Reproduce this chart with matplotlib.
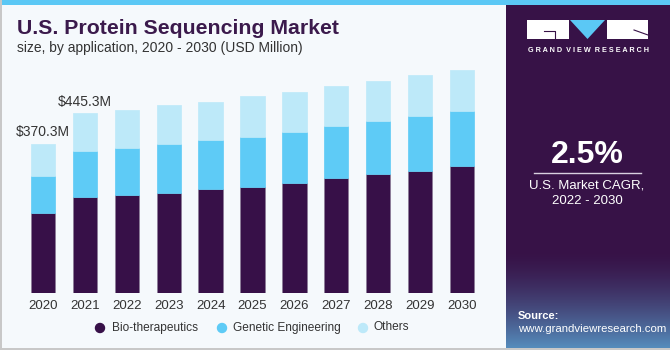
import matplotlib.pyplot as plt
import numpy as np
from matplotlib.patches import Rectangle, Polygon

years = ["2020", "2021", "2022", "2023", "2024", "2025", "2026", "2027", "2028", "2029", "2030"]
bio_therapeutics = [198.0, 238.8, 243.0, 248.8, 258.7, 263.6, 273.5, 286.0, 294.3, 303.3, 315.7]
genetic_engineering = [93.4, 114.0, 116.6, 120.7, 120.7, 124.0, 126.5, 129.0, 132.2, 135.6, 135.6]
others = [78.9, 92.5, 94.2, 96.7, 95.0, 100.9, 99.2, 99.2, 100.0, 102.4, 102.4]
labels = {0: "$370.3M", 1: "$445.3M"}

series_names = ["Bio-therapeutics", "Genetic Engineering", "Others"]
colors = ["#371048", "#5ecbf6", "#bde9f9"]

W, H = 670, 350
fig = plt.figure(figsize=(W / 100, H / 100), dpi=100)
fig.patch.set_facecolor("#f5f9fc")

# full-figure overlay axes in pixel coordinates
bg = fig.add_axes([0, 0, 1, 1])
bg.axis("off")
bg.add_patch(Rectangle((0, 0), W, 5, color="#5bc8f5", lw=0))
bg.add_patch(Rectangle((0, 0), 1.5, H, color="#c8c8c8", lw=0))
bg.add_patch(Rectangle((0, H - 2), W, 2, color="#c8c8c8", lw=0))

# right panel with gradient at the bottom
px0 = 506
grad = np.linspace(0, 1, 100)[:, None]
top_c = np.array([0x37, 0x12, 0x47]) / 255
bot_c = np.array([0x55, 0x8c, 0xbc]) / 255
t = grad ** 1.5
img = top_c[None, None, :] * (1 - t[..., None]) + bot_c[None, None, :] * t[..., None]
bg.add_patch(Rectangle((px0, 5), W - px0, H - 7, color="#371247", lw=0))
bg.imshow(img, extent=(px0, W, H - 2, 250), aspect="auto", zorder=1)
bg.set_xlim(0, W)
bg.set_ylim(H, 0)

# logo
bg.add_patch(Rectangle((527, 20), 42, 19, color="white", lw=0, zorder=3))
bg.add_patch(Polygon([(570, 20), (605, 20), (587.5, 39)], closed=True,
                     color="#5bc8f5", lw=0, zorder=3))
bg.add_patch(Rectangle((607, 20), 41, 19, color="white", lw=0, zorder=3))
bg.plot([544, 555, 555], [31, 31, 39], color="#371247", lw=0.8, zorder=4)
bg.plot([634, 648], [30, 35], color="#371247", lw=0.8, zorder=4)
bg.text(588, 50.5, "G R A N D  V I E W  R E S E A R C H",
        color="white", fontsize=5.2, fontweight="bold", ha="center", va="center",
        family="Liberation Sans", zorder=4)

bg.text(587, 155, "2.5%", color="white", fontsize=23, fontweight="bold",
        ha="center", va="center", family="Liberation Sans", zorder=4)
bg.plot([534, 641], [173, 173], color="#d8d0e0", lw=1, zorder=4)
bg.text(587, 186, "U.S. Market CAGR,", color="white", fontsize=9.5,
        ha="center", va="center", family="Liberation Sans", zorder=4)
bg.text(587, 201, "2022 - 2030", color="white", fontsize=9.5,
        ha="center", va="center", family="Liberation Sans", zorder=4)
bg.text(518, 316, "Source:", color="white", fontsize=8, fontweight="bold",
        ha="left", va="center", family="Liberation Sans", zorder=4)
bg.text(518, 329, "www.grandviewresearch.com", color="white", fontsize=8.2,
        ha="left", va="center", family="Liberation Sans", zorder=4)

# titles
bg.text(17, 29, "U.S. Protein Sequencing Market", color="#3b1a4c", fontsize=15.3,
        fontweight="bold", ha="left", va="center", family="Liberation Sans", zorder=4)
bg.text(17, 48, "size, by application, 2020 - 2030 (USD Million)", color="#333333",
        fontsize=10, ha="left", va="center", family="Liberation Sans", zorder=4)

# chart axes: baseline at y=293 px, top at 60 px; bar centers at 43 + 41.9*i
ax_left, ax_right, ax_top, ax_bot = 10, 496, 60, 293
ax = fig.add_axes([ax_left / W, 1 - ax_bot / H, (ax_right - ax_left) / W, (ax_bot - ax_top) / H])
ax.set_facecolor("none")
x = np.arange(len(years))
step = 41.9
ax.set_xlim((ax_left - 43) / step, (ax_right - 43) / step)
ax.set_ylim(0, (ax_bot - ax_top) * 2.48)

bottom = np.zeros(len(years))
for vals, name, c in zip([bio_therapeutics, genetic_engineering, others], series_names, colors):
    ax.bar(x, vals, width=0.58, bottom=bottom, color=c, label=name,
           edgecolor="#8a7a96" if c == colors[0] else c, linewidth=0.5)
    bottom += np.array(vals)

for i, txt in labels.items():
    ax.text(x[i], bottom[i] + 12, txt, ha="center", va="bottom", fontsize=10,
            color="#333333", family="Liberation Sans")

ax.set_xticks(x)
ax.set_xticklabels(years, fontsize=9.5, color="#333333", family="Liberation Sans")
ax.tick_params(axis="x", length=0, pad=5)
ax.set_yticks([])
for s in ax.spines.values():
    s.set_visible(False)

# legend (drawn by hand to match the reference spacing)
for xp, tx, name, c in zip([100, 222, 363], [112, 233, 374], series_names, colors):
    bg.add_patch(plt.Circle((xp, 328), 4.5, color=c, zorder=5))
    bg.text(tx, 327.5, name, fontsize=8.6, color="#333333", ha="left", va="center",
            family="Liberation Sans", zorder=5)

fig.savefig("out.png", dpi=100, facecolor=fig.get_facecolor())
